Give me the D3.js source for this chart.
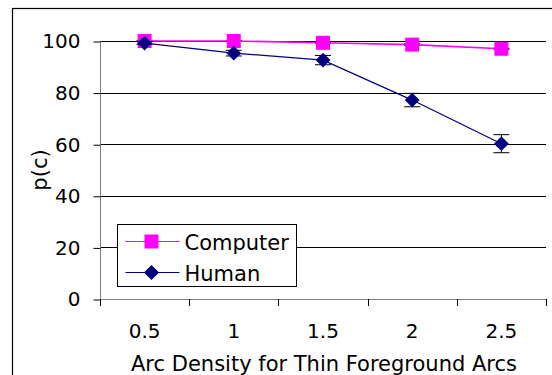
<!DOCTYPE html>
<html>
<head>
<meta charset="utf-8">
<script src="https://cdn.jsdelivr.net/npm/d3@7"></script>
<style>
  body { margin: 0; background: #fff; }
  svg { display: block; font-family: "DejaVu Sans", Verdana, sans-serif; }
</style>
</head>
<body>
<svg id="chart" width="552" height="375"></svg>
<script>
// data
const densities = ["0.5", "1", "1.5", "2", "2.5"];
const computerVals = [100, 100, 99.3, 98.6, 97.0];
const computerErr = [0.2, 0.2, 0.3, 0.3, 0.2];
const humanVals = [99.2, 95.3, 92.6, 77.1, 60.2];
const humanErr = [0.5, 1.1, 1.8, 2.6, 3.5];
const yTicks = [0, 20, 40, 60, 80, 100];

const svg = d3.select("#chart");

// outer chart frame (cropped at right and bottom)
svg.append("rect")
  .attr("x", 12.5).attr("y", 8.5)
  .attr("width", 700).attr("height", 500)
  .attr("fill", "none").attr("stroke", "#000").attr("stroke-width", 1.2);

const plotL = 100, plotR = 546, plotT = 41, plotB = 299;

const x = d3.scaleBand()
  .domain(densities)
  .range([plotL, plotR]);

const y = d3.scaleLinear()
  .domain([0, 100])
  .range([plotB, plotT]);

// gridlines
svg.append("g")
  .selectAll("line")
  .data(yTicks.filter(d => d > 0))
  .enter()
  .append("line")
  .attr("x1", plotL).attr("x2", plotR)
  .attr("y1", d => Math.round(y(d)) + 0.5)
  .attr("y2", d => Math.round(y(d)) + 0.5)
  .attr("stroke", "#000");

// Y axis
const yAxis = svg.append("g")
  .attr("transform", "translate(" + (plotL + 0.5) + ",0.5)")
  .call(d3.axisLeft(y).tickValues(yTicks).tickSize(7).tickPadding(13));
yAxis.select(".domain").attr("stroke", "#808080").attr("d", "M0," + plotT + "V" + plotB);
yAxis.selectAll(".tick line").attr("stroke", "#000");
yAxis.selectAll("text").attr("font-size", 20).attr("font-family", "DejaVu Sans").attr("fill", "#000");

// X axis
const xAxis = svg.append("g")
  .attr("transform", "translate(0," + (plotB + 0.5) + ")")
  .call(d3.axisBottom(x).tickSize(0).tickPadding(24));
xAxis.select(".domain").attr("stroke", "#808080").attr("d", "M" + plotL + ",0H" + plotR);
xAxis.selectAll("text").attr("font-size", 20).attr("font-family", "DejaVu Sans").attr("fill", "#000");
// ticks between categories
svg.append("g")
  .selectAll("line")
  .data(densities.concat(["end"]))
  .enter()
  .append("line")
  .attr("x1", (d, i) => Math.round(plotL + i * x.step()) + 0.5)
  .attr("x2", (d, i) => Math.round(plotL + i * x.step()) + 0.5)
  .attr("y1", plotB).attr("y2", plotB + 7)
  .attr("stroke", "#000");

const cx = d => x(d) + x.bandwidth() / 2;

function drawSeries(vals, errs, color, lineW, rot, size) {
  const g = svg.append("g");
  // error bars
  const eb = g.selectAll(".err")
    .data(vals.map((v, i) => ({ k: densities[i], v: v, e: errs[i] })))
    .enter().append("g");
  eb.append("line")
    .attr("x1", d => cx(d.k)).attr("x2", d => cx(d.k))
    .attr("y1", d => y(d.v - d.e)).attr("y2", d => y(d.v + d.e))
    .attr("stroke", "#000");
  eb.append("line")
    .attr("x1", d => cx(d.k) - 8).attr("x2", d => cx(d.k) + 8)
    .attr("y1", d => y(d.v + d.e)).attr("y2", d => y(d.v + d.e))
    .attr("stroke", "#000");
  eb.append("line")
    .attr("x1", d => cx(d.k) - 8).attr("x2", d => cx(d.k) + 8)
    .attr("y1", d => y(d.v - d.e)).attr("y2", d => y(d.v - d.e))
    .attr("stroke", "#000");

  const line = d3.line()
    .x((d, i) => cx(densities[i]))
    .y(d => y(d));
  g.append("path")
    .datum(vals)
    .attr("d", line)
    .attr("fill", "none")
    .attr("stroke", color)
    .attr("stroke-width", lineW);

  g.selectAll(".pt")
    .data(vals)
    .enter()
    .append("path")
    .attr("d", d3.symbol().type(d3.symbolSquare).size(size))
    .attr("transform", (d, i) => "translate(" + cx(densities[i]) + "," + y(d) + ") rotate(" + rot + ")")
    .attr("fill", color);
}

drawSeries(computerVals, computerErr, "#ff00ff", 1.6, 0, 196);
drawSeries(humanVals, humanErr, "#000080", 1.2, 45, 110);

// legend
const leg = svg.append("g").attr("transform", "translate(117.5,224.5)");
leg.append("rect")
  .attr("width", 179).attr("height", 62)
  .attr("fill", "#fff").attr("stroke", "#000");
const legItems = [
  { name: "Computer", color: "#ff00ff", rot: 0, size: 196 },
  { name: "Human", color: "#000080", rot: 45, size: 115 }
];
legItems.forEach((it, i) => {
  const yy = 17 + i * 31;
  leg.append("line")
    .attr("x1", 8).attr("x2", 62).attr("y1", yy).attr("y2", yy)
    .attr("stroke", it.color).attr("stroke-width", 1);
  leg.append("path").attr("d", d3.symbol().type(d3.symbolSquare).size(it.size))
    .attr("transform", "translate(34," + yy + ") rotate(" + it.rot + ")").attr("fill", it.color);
  leg.append("text")
    .attr("x", 67).attr("y", yy + 8)
    .attr("font-size", 21)
    .text(it.name);
});

// axis titles
svg.append("text")
  .attr("transform", "translate(47,170) rotate(-90)")
  .attr("text-anchor", "middle")
  .attr("font-size", 21)
  .text("p(c)");

svg.append("text")
  .attr("x", 324)
  .attr("y", 371)
  .attr("text-anchor", "middle")
  .attr("font-size", 21)
  .text("Arc Density for Thin Foreground Arcs");
</script>
</body>
</html>
